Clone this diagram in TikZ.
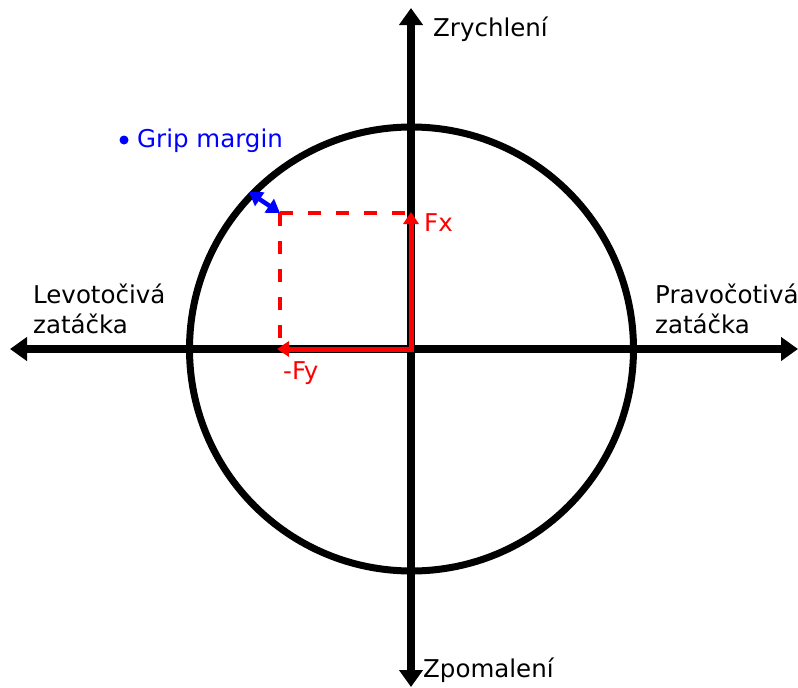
\documentclass[tikz,border=0pt]{standalone}
\usepackage{fontspec}
\setmainfont{DejaVu Sans}
\usetikzlibrary{arrows.meta}
\begin{document}
\begin{tikzpicture}[x=1pt,y=-1pt,
  axis/.style={line width=8pt,-{Triangle[length=17pt,width=23pt]}},
  ring/.style={line width=7pt},
  force/.style={draw=red,line width=5pt,{Triangle[length=12pt,width=15pt]}-{Triangle[length=12pt,width=15pt]}},
  dashline/.style={draw=red,line width=4pt,dash pattern=on 13pt off 15pt},
  margin/.style={draw=blue,line width=4.5pt,{Triangle[length=13pt,width=16pt]}-{Triangle[length=13pt,width=16pt]}},
  lbl/.style={font=\fontsize{24.5}{29}\selectfont,inner sep=0pt,anchor=base west},
  rlbl/.style={lbl,text=red},
  blbl/.style={lbl,text=blue}]
\useasboundingbox (0,0) rectangle (798,688);
\coordinate (O) at (411,349);
\coordinate (C) at (411.5,349);
\coordinate (T) at (411,8);
\coordinate (B) at (411,687);
\coordinate (L) at (10,349);
\coordinate (R) at (798,349);
\coordinate (Fx) at (411,212);
\coordinate (Fy) at (277,349);
\coordinate (P) at (280,213);
\coordinate (G) at (249,192);
% circle
\draw[ring] (C) circle (222);
% axes
\draw[axis] (O) -- (T);
\draw[axis] (O) -- (B);
\draw[axis] (O) -- (L);
\draw[axis] (O) -- (R);
% dashed projection
\draw[dashline] (P) -- (411,213);
\draw[dashline] (P) -- (280,343);
% forces
\draw[force,line join=miter] (Fy) -- (O) -- (Fx);
% grip margin
\draw[margin] (P) -- (G);
% labels
\node[lbl] (zr) at (433,36) {Zrychlení};
\node[lbl] (zp) at (423,677) {Zpomalení};
\node[lbl] (lev1) at (33,303) {Levotočivá};
\node[lbl] (lev2) at (33,333) {zatáčka};
\node[lbl] (pr1) at (655,303) {Pravočotivá};
\node[lbl] (pr2) at (655,333) {zatáčka};
\node[rlbl] (fxl) at (424,231) {Fx};
\node[rlbl] (fyl) at (283,379) {-Fy};
\fill[blue] (124,140) circle (4.5);
\node[blbl] (gm) at (137,147) {Grip margin};
\end{tikzpicture}
\end{document}
